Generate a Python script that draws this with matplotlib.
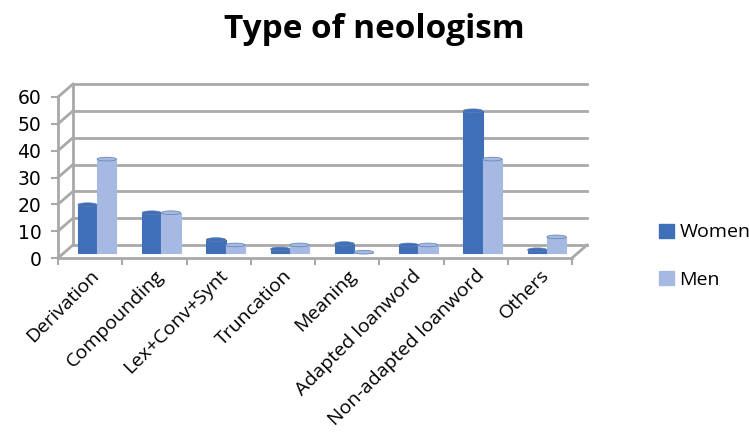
import numpy as np
import matplotlib
matplotlib.use('Agg')
import matplotlib.pyplot as plt
import matplotlib.transforms as mtransforms
from matplotlib.patches import Patch, Ellipse

# data
categories = ['Derivation', 'Compounding', 'Lex+Conv+Synt', 'Truncation',
              'Meaning', 'Adapted loanword', 'Non-adapted loanword', 'Others']
women = [18, 15, 5, 1.5, 3.5, 3, 53, 1.2]
men = [35, 15, 3, 3, 0.3, 3, 35, 6]
yticks = [0, 10, 20, 30, 40, 50, 60]

c_women = '#3f6fb8'
c_men = '#a5b9e2'
c_grid = '#a9a9a9'

fig = plt.figure(figsize=(7.49, 4.37), dpi=100)
ax = fig.add_axes([58 / 749, 1 - 258 / 437, (572 - 58) / 749, (258 - 97) / 437])
ax.set_xlim(0, len(categories))
ax.set_ylim(0, 60)

# pseudo 3-D: back wall and half-depth offsets in pixels
back = mtransforms.offset_copy(ax.transData, fig, x=15, y=13, units='dots')
mid = mtransforms.offset_copy(ax.transData, fig, x=7, y=5, units='dots')

W, H = fig.bbox.width, fig.bbox.height
for y in yticks:
    ax.plot([0, len(categories)], [y, y], color=c_grid, lw=2, transform=back,
            clip_on=False, zorder=1)
    # left wall
    p0 = ax.transData.transform((0, y))
    p1 = back.transform((0, y))
    fig.add_artist(plt.Line2D([p0[0] / W, p1[0] / W], [p0[1] / H, p1[1] / H],
                              color=c_grid, lw=2))
ax.plot([0, 0], [0, 60], color=c_grid, lw=2, transform=back, clip_on=False, zorder=1)
# floor right edge
p0 = ax.transData.transform((len(categories), 0))
p1 = back.transform((len(categories), 0))
fig.add_artist(plt.Line2D([p0[0] / W, p1[0] / W], [p0[1] / H, p1[1] / H],
                          color=c_grid, lw=2))

x = np.arange(len(categories)) + 0.5
w = 0.3
for vals, col, shift in [(women, c_women, -w / 2), (men, c_men, w / 2)]:
    ax.bar(x + shift, vals, w, color=col, edgecolor=col, lw=0.8,
           transform=mid, clip_on=False, zorder=3)
    for xi, v in zip(x + shift, vals):
        ax.add_patch(Ellipse((xi, v), w, 1.4, facecolor=col, edgecolor='#5f7fb0',
                             lw=0.5, transform=mid, clip_on=False, zorder=4))

for s in ['top', 'right']:
    ax.spines[s].set_visible(False)
for s in ['left', 'bottom']:
    ax.spines[s].set_color(c_grid)
    ax.spines[s].set_linewidth(2)
ax.patch.set_visible(False)

ax.set_yticks(yticks)
ax.set_yticklabels([str(t) for t in yticks], fontsize=13.5, family='DejaVu Sans')
ax.set_xticks(np.arange(len(categories) + 1), minor=False)
ax.set_xticklabels([])
ax.set_xticks(x, minor=True)
ax.set_xticklabels(categories, minor=True, rotation=45, ha='right',
                   rotation_mode='anchor', fontsize=14, family='Open Sans')
ax.tick_params(axis='x', which='minor', length=0, pad=6)
ax.tick_params(axis='x', which='major', length=5, color=c_grid, width=1.5)
ax.tick_params(axis='y', length=5, color=c_grid, width=1.5, pad=7)

fig.text(0.5, 1 - 30 / 437, 'Type of neologism', ha='center', va='center',
         fontsize=24, fontweight='bold', family='Open Sans')

handles = [Patch(color=c_women), Patch(color=c_men)]
fig.legend(handles, ['Women', 'Men'], loc='center left',
           bbox_to_anchor=(659 / 749, 1 - 256 / 437), frameon=False,
           handlelength=0.75, handleheight=0.75, handletextpad=0.3,
           borderaxespad=0, borderpad=0,
           labelspacing=1.5, prop={'family': 'Open Sans', 'size': 14})

fig.savefig('out.png', dpi=100)
